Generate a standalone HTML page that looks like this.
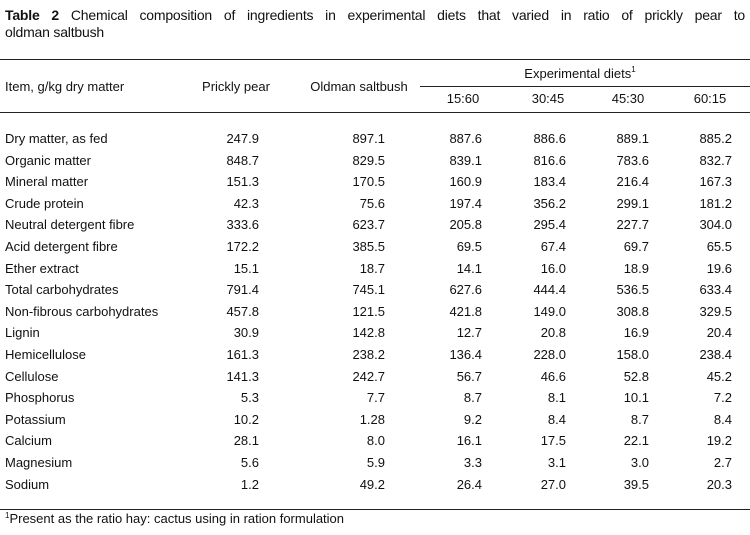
<!DOCTYPE html>
<html><head><meta charset="utf-8"><style>
body{margin:0;width:750px;height:535px;background:#fff;font-family:"Liberation Sans",Arial,sans-serif;color:#111;position:relative;overflow:hidden}
.t{position:absolute;font-size:13px;white-space:nowrap;line-height:15px}
.r{text-align:right}
.c{text-align:center}
.line{position:absolute;height:1px;background:#222}
.tl{position:absolute;left:5px;width:740px;font-size:14px;line-height:17px;white-space:nowrap}
</style></head><body>
<div>
<div class="tl" style="top:7px;text-align:justify;text-align-last:justify;white-space:normal;height:17px;overflow:hidden;letter-spacing:-0.2px"><b>Table 2</b> Chemical composition of ingredients in experimental diets that varied in ratio of prickly pear to</div>
<div class="tl" style="top:24px;letter-spacing:-0.2px">oldman saltbush</div>
</div>
<div class="line" style="left:0;top:59px;width:750px"></div>
<div class="line" style="left:420px;top:86px;width:330px"></div>
<div class="line" style="left:0;top:112px;width:750px"></div>
<div class="line" style="left:0;top:509px;width:750px"></div>
<div class="t" style="left:5px;top:79px">Item, g/kg dry matter</div>
<div class="t c" style="left:186px;width:100px;top:79px">Prickly pear</div>
<div class="t c" style="left:299px;width:120px;top:79px">Oldman saltbush</div>
<div class="t c" style="left:480px;width:200px;top:66px">Experimental diets<sup style="font-size:8px;vertical-align:6px;line-height:0">1</sup></div>
<div id="rows"></div>
<div class="t" style="left:5px;top:511px"><sup style="font-size:8px;vertical-align:5px;line-height:0">1</sup>Present as the ratio hay: cactus using in ration formulation</div>
<script>
const diets=["15:60","30:45","45:30","60:15"];
const items=["Dry matter, as fed","Organic matter","Mineral matter","Crude protein","Neutral detergent fibre","Acid detergent fibre","Ether extract","Total carbohydrates","Non-fibrous carbohydrates","Lignin","Hemicellulose","Cellulose","Phosphorus","Potassium","Calcium","Magnesium","Sodium"];
const pricklyPear=["247.9","848.7","151.3","42.3","333.6","172.2","15.1","791.4","457.8","30.9","161.3","141.3","5.3","10.2","28.1","5.6","1.2"];
const saltbush=["897.1","829.5","170.5","75.6","623.7","385.5","18.7","745.1","121.5","142.8","238.2","242.7","7.7","1.28","8.0","5.9","49.2"];
const d1=["887.6","839.1","160.9","197.4","205.8","69.5","14.1","627.6","421.8","12.7","136.4","56.7","8.7","9.2","16.1","3.3","26.4"];
const d2=["886.6","816.6","183.4","356.2","295.4","67.4","16.0","444.4","149.0","20.8","228.0","46.6","8.1","8.4","17.5","3.1","27.0"];
const d3=["889.1","783.6","216.4","299.1","227.7","69.7","18.9","536.5","308.8","16.9","158.0","52.8","10.1","8.7","22.1","3.0","39.5"];
const d4=["885.2","832.7","167.3","181.2","304.0","65.5","19.6","633.4","329.5","20.4","238.4","45.2","7.2","8.4","19.2","2.7","20.3"];
const cols=[pricklyPear,saltbush,d1,d2,d3,d4];
const rightEdges=[259,385,482,566,649,732];
const dietCenters=[463,548,628,710];
const root=document.getElementById('rows');
function mk(txt,cls,style){const e=document.createElement('div');e.className='t '+cls;e.textContent=txt;e.setAttribute('style',style);root.appendChild(e);return e;}
diets.forEach((d,i)=>{const e=mk(d,'c','left:'+(dietCenters[i]-40)+'px;width:80px;top:91px');

});
items.forEach((it,r)=>{const y=131+r*21.6;
const e=mk(it,'','left:5px;top:'+y+'px');


cols.forEach((c,j)=>{const v=mk(c[r],'r','left:'+(rightEdges[j]-80)+'px;width:80px;top:'+y+'px');

});});
</script>
</body></html>
